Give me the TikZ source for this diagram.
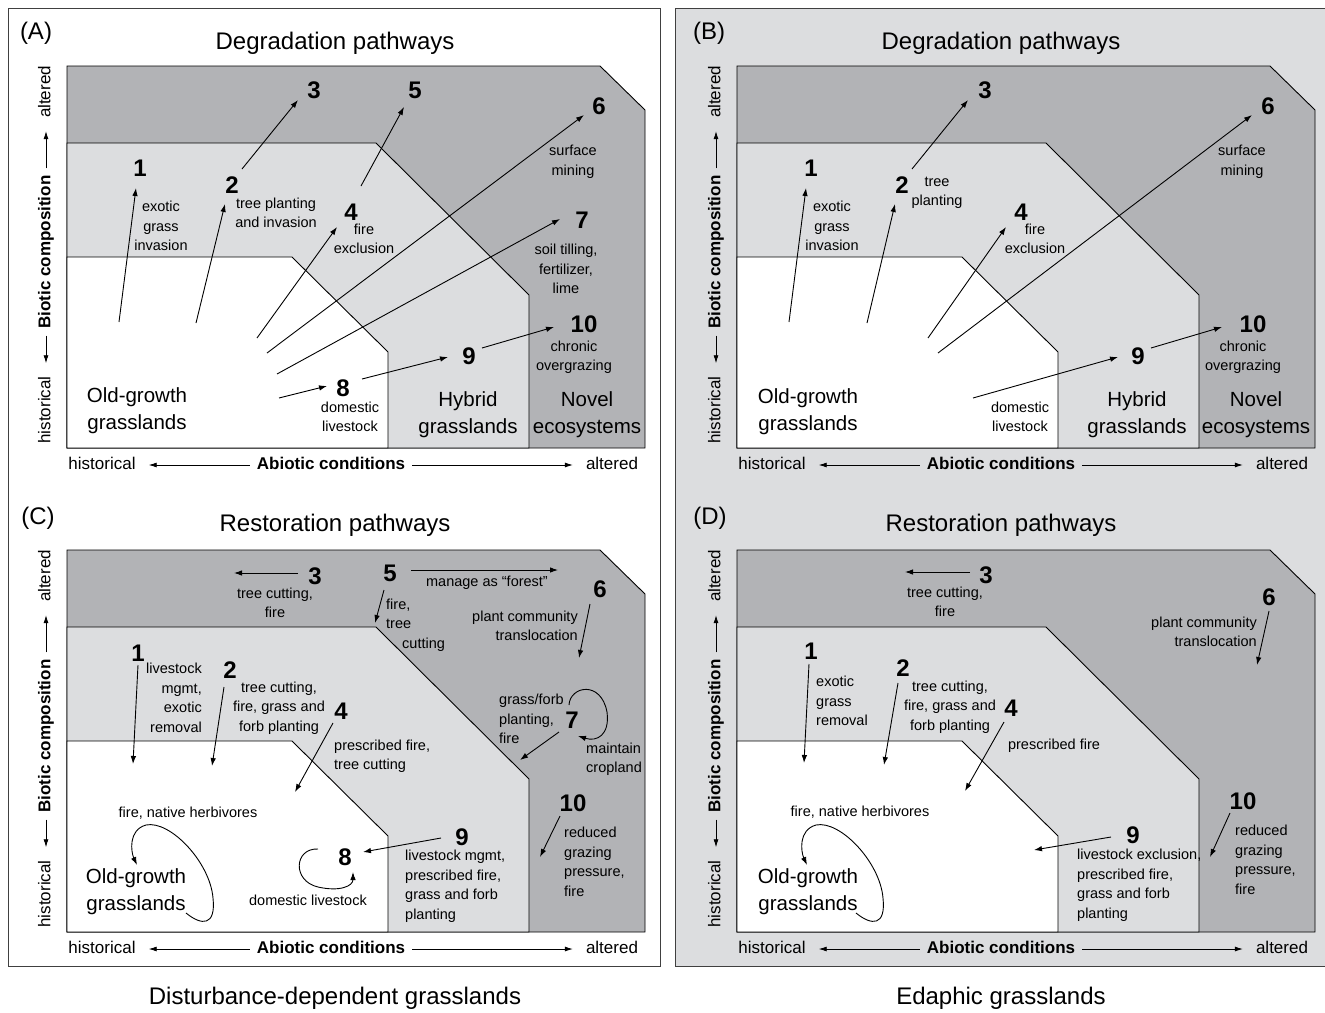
\documentclass[tikz,border=0pt]{standalone}
\usepackage{fontspec}
\setmainfont{Liberation Sans}
\usetikzlibrary{arrows.meta}

\definecolor{novelgrey}{RGB}{178,179,182}
\definecolor{hybridgrey}{RGB}{220,221,223}

\newcommand{\axfont}{\fontsize{17}{20}\selectfont}

\tikzset{
  novelzone/.style={fill=novelgrey, draw=black, line width=0.9pt},
  hybridzone/.style={fill=hybridgrey, draw=black, line width=0.9pt},
  oldzone/.style={fill=white, draw=black, line width=0.9pt},
  axtext/.style={font=\axfont, inner sep=0pt, text height=12pt, text depth=3.5pt},
  axarr/.style={-{Latex[length=8pt,width=5pt]}, line width=0.8pt, shorten <=7pt, shorten >=13pt},
  pway/.style={-{Latex[length=8pt,width=5.5pt]}, line width=0.9pt},
  pnum/.style={font=\fontsize{24}{24}\selectfont\bfseries, inner sep=0pt},
  plbl/.style={font=\fontsize{14.5}{19.5}\selectfont, align=center, inner sep=0pt},
  lbll/.style={plbl, align=left, anchor=west},
  lblr/.style={plbl, align=right, anchor=east},
  zonelbl/.style={font=\fontsize{20.5}{27}\selectfont, align=center, inner sep=0pt},
  ptitle/.style={font=\fontsize{24}{24}\selectfont, inner sep=0pt}
}

% regions and axes of one panel
\newcommand{\panelbase}{%
  \filldraw[novelzone] (67,66) -- (600,66) -- (645,110) -- (645,448) -- (67,448) -- cycle;
  \filldraw[hybridzone] (67,143) -- (376,143) -- (529,295) -- (529,448) -- (67,448) -- cycle;
  \filldraw[oldzone] (67,257) -- (292,257) -- (388,352) -- (388,448) -- (67,448) -- cycle;
  \node[axtext] (xlo) at (102,465) {historical};
  \node[axtext, font=\axfont\bfseries] (xmid) at (331,465) {Abiotic conditions};
  \node[axtext] (xhi) at (612,465) {altered};
  \draw[axarr] (xmid.west) -- (xlo.east);
  \draw[axarr] (xmid.east) -- (xhi.west);
  \node[axtext, rotate=90] (ylo) at (46,410) {historical};
  \node[axtext, rotate=90, font=\axfont\bfseries] (ymid) at (46,252) {Biotic composition};
  \node[axtext, rotate=90] (yhi) at (46,92) {altered};
  \draw[axarr] (ymid.west) -- (ylo.east);
  \draw[axarr] (ymid.east) -- (yhi.west);
}

\begin{document}
\begin{tikzpicture}[x=1pt,y=-1pt]
\useasboundingbox (0,0) rectangle (1325,1012);
\draw[draw=black!75, line width=0.8pt] (8,8) rectangle (660,966);
\filldraw[fill=hybridgrey, draw=black!75, line width=0.8pt] (675,8) rectangle (1330,966);

\begin{scope}\panelbase\end{scope}
\begin{scope}[shift={(670,0)}]\panelbase\end{scope}
\begin{scope}[shift={(0,484)}]\panelbase\end{scope}
\begin{scope}[shift={(670,484)}]\panelbase\end{scope}

\node[ptitle] (la) at (36,33) {(A)};
\node[ptitle] (lb) at (709,33) {(B)};
\node[ptitle] (lc) at (38,518) {(C)};
\node[ptitle] (ld) at (710,518) {(D)};
\node[ptitle] (ta) at (335,43) {Degradation pathways};
\node[ptitle] (tb) at (1001,43) {Degradation pathways};
\node[ptitle] (tc) at (335,525) {Restoration pathways};
\node[ptitle] (td) at (1001,525) {Restoration pathways};
\node[ptitle] (capl) at (335,998) {Disturbance-dependent grasslands};
\node[ptitle] (capr) at (1001,998) {Edaphic grasslands};

% panel A
\node[zonelbl] (oga) at (137,411) {Old-growth\\grasslands};
\node[zonelbl] (hya) at (468,415) {Hybrid\\grasslands};
\node[zonelbl] (nva) at (587,415) {Novel\\ecosystems};
\node[pnum] (a1) at (140,168) {1};
\node[pnum] (a2) at (232,185) {2};
\node[pnum] (a3) at (314,90) {3};
\node[pnum] (a4) at (351,212) {4};
\node[pnum] (a5) at (415,90) {5};
\node[pnum] (a6) at (599,106) {6};
\node[pnum] (a7) at (582,220) {7};
\node[pnum] (a8) at (343,388) {8};
\node[pnum] (a9) at (469,356) {9};
\node[pnum] (a10) at (584,324) {10};
\node[plbl] (ta1) at (161,226) {exotic\\grass\\invasion};
\node[plbl] (ta2) at (276,213) {tree planting\\and invasion};
\node[plbl] (ta4) at (364,239) {fire\\exclusion};
\node[plbl] (ta6) at (573,162) {surface\\mining};
\node[plbl] (ta7) at (566,269) {soil tilling,\\fertilizer,\\lime};
\node[plbl] (ta10) at (574,357) {chronic\\overgrazing};
\node[plbl] (ta8) at (350,417) {domestic\\livestock};
\draw[pway] (119,322) coordinate (pa1t) -- (136,188) coordinate (pa1h);
\draw[pway] (196,323) coordinate (pa2t) -- (225,204) coordinate (pa2h);
\draw[pway] (242,169) coordinate (pa3t) -- (298,100) coordinate (pa3h);
\draw[pway] (257,338) coordinate (pa4t) -- (337,227) coordinate (pa4h);
\draw[pway] (361,186) coordinate (pa5t) -- (404,107) coordinate (pa5h);
\draw[pway] (267,353) coordinate (pa6t) -- (584,115) coordinate (pa6h);
\draw[pway] (277,374) coordinate (pa7t) -- (560,219) coordinate (pa7h);
\draw[pway] (279,398) coordinate (pa8t) -- (327,386) coordinate (pa8h);
\draw[pway] (362,379) coordinate (pa9t) -- (448,357) coordinate (pa9h);
\draw[pway] (482,348) coordinate (pa10t) -- (554,327) coordinate (pa10h);

% panel B
\node[zonelbl] (ogb) at (808,412) {Old-growth\\grasslands};
\node[zonelbl] (hyb) at (1137,415) {Hybrid\\grasslands};
\node[zonelbl] (nvb) at (1256,415) {Novel\\ecosystems};
\node[pnum] (b1) at (811,168) {1};
\node[pnum] (b2) at (902,185) {2};
\node[pnum] (b3) at (985,90) {3};
\node[pnum] (b4) at (1021,212) {4};
\node[pnum] (b6) at (1268,106) {6};
\node[pnum] (b9) at (1138,356) {9};
\node[pnum] (b10) at (1253,324) {10};
\node[plbl] (tb1) at (832,226) {exotic\\grass\\invasion};
\node[plbl] (tb2) at (937,193) {tree\\planting};
\node[plbl] (tb4) at (1035,239) {fire\\exclusion};
\node[plbl] (tb6) at (1242,162) {surface\\mining};
\node[plbl] (tb10) at (1243,357) {chronic\\overgrazing};
\node[plbl] (tb8) at (1020,417) {domestic\\livestock};
\draw[pway] (789,322) coordinate (pb1t) -- (806,188) coordinate (pb1h);
\draw[pway] (867,323) coordinate (pb2t) -- (895,204) coordinate (pb2h);
\draw[pway] (912,169) coordinate (pb3t) -- (968,100) coordinate (pb3h);
\draw[pway] (928,338) coordinate (pb4t) -- (1006,227) coordinate (pb4h);
\draw[pway] (938,353) coordinate (pb6t) -- (1252,115) coordinate (pb6h);
\draw[pway] (973,398) coordinate (pb9t) -- (1118,357) coordinate (pb9h);
\draw[pway] (1151,348) coordinate (pb10t) -- (1222,327) coordinate (pb10h);

% panel C
\node[zonelbl] (ogc) at (136,892) {Old-growth\\grasslands};
\node[pnum] (c1) at (138,653) {1};
\node[pnum] (c2) at (230,670) {2};
\node[pnum] (c3) at (315,576) {3};
\node[pnum] (c4) at (341,711) {4};
\node[pnum] (c5) at (390,573) {5};
\node[pnum] (c6) at (600,589) {6};
\node[pnum] (c7) at (572,720) {7};
\node[pnum] (c8) at (345,857) {8};
\node[pnum] (c9) at (462,837) {9};
\node[pnum] (c10) at (573,803) {10};
\node[plbl] (tc3) at (275,603) {tree cutting,\\fire};
\node[plbl] (tc5) at (487,583) {manage as “forest”};
\node[lbll] (tc5b) at (386,625) {fire,\\tree\\\hspace*{16pt}cutting};
\node[lblr] (tc6) at (578,626) {plant community\\translocation};
\node[lbll] (tc7) at (499,719) {grass/forb\\planting,\\fire};
\node[lbll] (tc7b) at (586,759) {maintain\\cropland};
\node[lblr] (tc1) at (202,698) {livestock\\mgmt,\\exotic\\removal};
\node[plbl] (tc2) at (279,708) {tree cutting,\\fire, grass and\\forb planting};
\node[lbll] (tc4) at (334,756) {prescribed fire,\\tree cutting};
\node[plbl] (tcog) at (188,813) {fire, native herbivores};
\node[plbl] (tc8) at (308,900) {domestic livestock};
\node[lbll] (tc9) at (405,886) {livestock mgmt,\\prescribed fire,\\grass and forb\\planting};
\node[lbll] (tc10) at (564,862) {reduced\\grazing\\pressure,\\fire};
\draw[pway] (298,573) coordinate (pc3t) -- (234,573) coordinate (pc3h);
\draw[pway] (411,570) coordinate (pc5t) -- (558,570) coordinate (pc5h);
\draw[pway] (384,590) coordinate (pc5u) -- (375,623) coordinate (pc5d);
\draw[pway] (590,604) coordinate (pc6t) -- (579,658) coordinate (pc6h);
\draw[pway] (559,732) coordinate (pc7t) -- (520,760) coordinate (pc7h);
\draw[pway] (569,705) .. controls (570,686) and (601,680) .. (607,712) .. controls (610,735) and (597,742) .. (578,736);
\draw[pway] (318,849) .. controls (294,848) and (292,881) .. (318,887) .. controls (340,892) and (353,886) .. (353,872);
\draw[pway] (186,913) .. controls (202,926) and (216,926) .. (213,898) .. controls (210,862) and (170,820) .. (146,825) .. controls (128,830) and (131,852) .. (137,865);
\draw[pway] (138,665) coordinate (pc1t) -- (133,764) coordinate (pc1h);
\draw[pway] (224,687) coordinate (pc2t) -- (212,766) coordinate (pc2h);
\draw[pway] (333,723) coordinate (pc4t) -- (295,792) coordinate (pc4h);
\draw[pway] (441,838) coordinate (pc9t) -- (363,852) coordinate (pc9h);
\draw[pway] (560,816) coordinate (pc10t) -- (540,857) coordinate (pc10h);

% panel D
\node[zonelbl] (ogd) at (808,892) {Old-growth\\grasslands};
\node[pnum] (d1) at (811,651) {1};
\node[pnum] (d2) at (903,668) {2};
\node[pnum] (d3) at (986,575) {3};
\node[pnum] (d4) at (1011,708) {4};
\node[pnum] (d6) at (1269,597) {6};
\node[pnum] (d9) at (1133,835) {9};
\node[pnum] (d10) at (1243,801) {10};
\node[plbl] (td3) at (945,602) {tree cutting,\\fire};
\node[lblr] (td6) at (1257,632) {plant community\\translocation};
\node[lbll] (td1) at (816,701) {exotic\\grass\\removal};
\node[plbl] (td2) at (950,707) {tree cutting,\\fire, grass and\\forb planting};
\node[plbl] (td4) at (1054,746) {prescribed fire};
\node[plbl] (tdog) at (860,812) {fire, native herbivores};
\node[lbll] (td9) at (1077,885) {livestock exclusion,\\prescribed fire,\\grass and forb\\planting};
\node[lbll] (td10) at (1235,860) {reduced\\grazing\\pressure,\\fire};
\draw[pway] (970,572) coordinate (pd3t) -- (905,572) coordinate (pd3h);
\draw[pway] (1269,611) coordinate (pd6t) -- (1257,665) coordinate (pd6h);
\draw[pway] (809,664) coordinate (pd1t) -- (804,763) coordinate (pd1h);
\draw[pway] (898,683) coordinate (pd2t) -- (884,765) coordinate (pd2h);
\draw[pway] (1004,722) coordinate (pd4t) -- (965,791) coordinate (pd4h);
\draw[pway] (1111,837) coordinate (pd9t) -- (1034,850) coordinate (pd9h);
\draw[pway] (1230,813) coordinate (pd10t) -- (1210,857) coordinate (pd10h);
\begin{scope}[shift={(670,0)}]
\draw[pway] (186,913) .. controls (202,926) and (216,926) .. (213,898) .. controls (210,862) and (170,820) .. (146,825) .. controls (128,830) and (131,852) .. (137,865);
\end{scope}
\end{tikzpicture}
\end{document}
